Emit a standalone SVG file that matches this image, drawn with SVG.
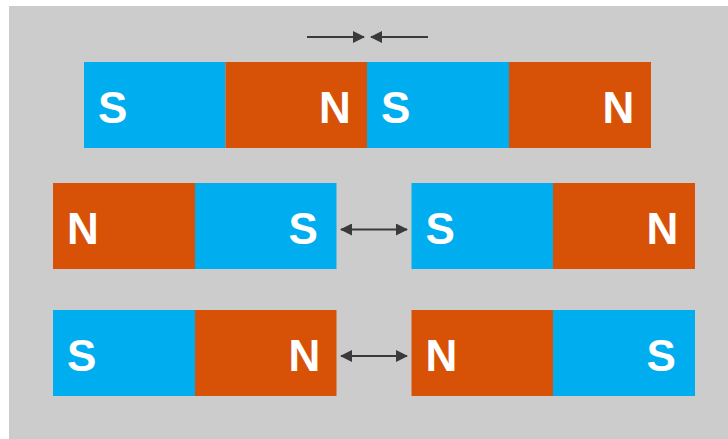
<svg xmlns="http://www.w3.org/2000/svg" width="728" height="439" viewBox="0 0 728 439">
  <style>
    .s { fill: #00adef; }
    .n { fill: #d75207; }
    .lbl { font-family: "Liberation Sans", Arial, sans-serif; font-weight: bold; font-size: 44px; fill: #ffffff; }
    .arrow { stroke: #3a3a3a; stroke-width: 2; fill: none; }
  </style>
  <defs>
    <marker id="head" viewBox="0 0 12 12" refX="11" refY="6" markerWidth="12" markerHeight="12" markerUnits="userSpaceOnUse" orient="auto-start-reverse">
      <path d="M0,0 L12,6 L0,12 Z" fill="#3a3a3a"/>
    </marker>
  </defs>

  <rect x="9" y="6" width="719" height="433" fill="#cccccc"/>

  <!-- top row: two magnets joined end to end -->
  <g id="magnet-top-1">
    <rect class="s" x="84" y="62" width="141.5" height="86"/>
    <rect class="n" x="225.5" y="62" width="141.5" height="86"/>
    <text class="lbl" x="98" y="122.5">S</text>
    <text class="lbl" x="319" y="122.5">N</text>
  </g>
  <g id="magnet-top-2">
    <rect class="s" x="367" y="62" width="142" height="86"/>
    <rect class="n" x="509" y="62" width="142" height="86"/>
    <text class="lbl" x="381" y="122.5">S</text>
    <text class="lbl" x="602.5" y="122.5">N</text>
  </g>

  <!-- middle row: south poles facing -->
  <g id="magnet-mid-left">
    <rect class="n" x="53" y="183" width="142" height="86"/>
    <rect class="s" x="195" y="183" width="141.5" height="86"/>
    <text class="lbl" x="67" y="243.5">N</text>
    <text class="lbl" x="288.5" y="243.5">S</text>
  </g>
  <g id="magnet-mid-right">
    <rect class="s" x="411.5" y="183" width="141.5" height="86"/>
    <rect class="n" x="553" y="183" width="142" height="86"/>
    <text class="lbl" x="425.5" y="243.5">S</text>
    <text class="lbl" x="646.5" y="243.5">N</text>
  </g>

  <!-- bottom row: north poles facing -->
  <g id="magnet-bot-left">
    <rect class="s" x="53" y="310" width="142" height="86"/>
    <rect class="n" x="195" y="310" width="141.5" height="86"/>
    <text class="lbl" x="67" y="370.5">S</text>
    <text class="lbl" x="288.5" y="370.5">N</text>
  </g>
  <g id="magnet-bot-right">
    <rect class="n" x="411.5" y="310" width="141.5" height="86"/>
    <rect class="s" x="553" y="310" width="142" height="86"/>
    <text class="lbl" x="425.5" y="370.5">N</text>
    <text class="lbl" x="646.5" y="370.5">S</text>
  </g>

  <g id="connectors">
    <line class="arrow" x1="307" y1="37" x2="364" y2="37" marker-end="url(#head)"/>
    <line class="arrow" x1="428" y1="37" x2="371" y2="37" marker-end="url(#head)"/>
    <line class="arrow" x1="341" y1="229.5" x2="407" y2="229.5" marker-start="url(#head)" marker-end="url(#head)"/>
    <line class="arrow" x1="341" y1="356" x2="407" y2="356" marker-start="url(#head)" marker-end="url(#head)"/>
  </g>
</svg>
